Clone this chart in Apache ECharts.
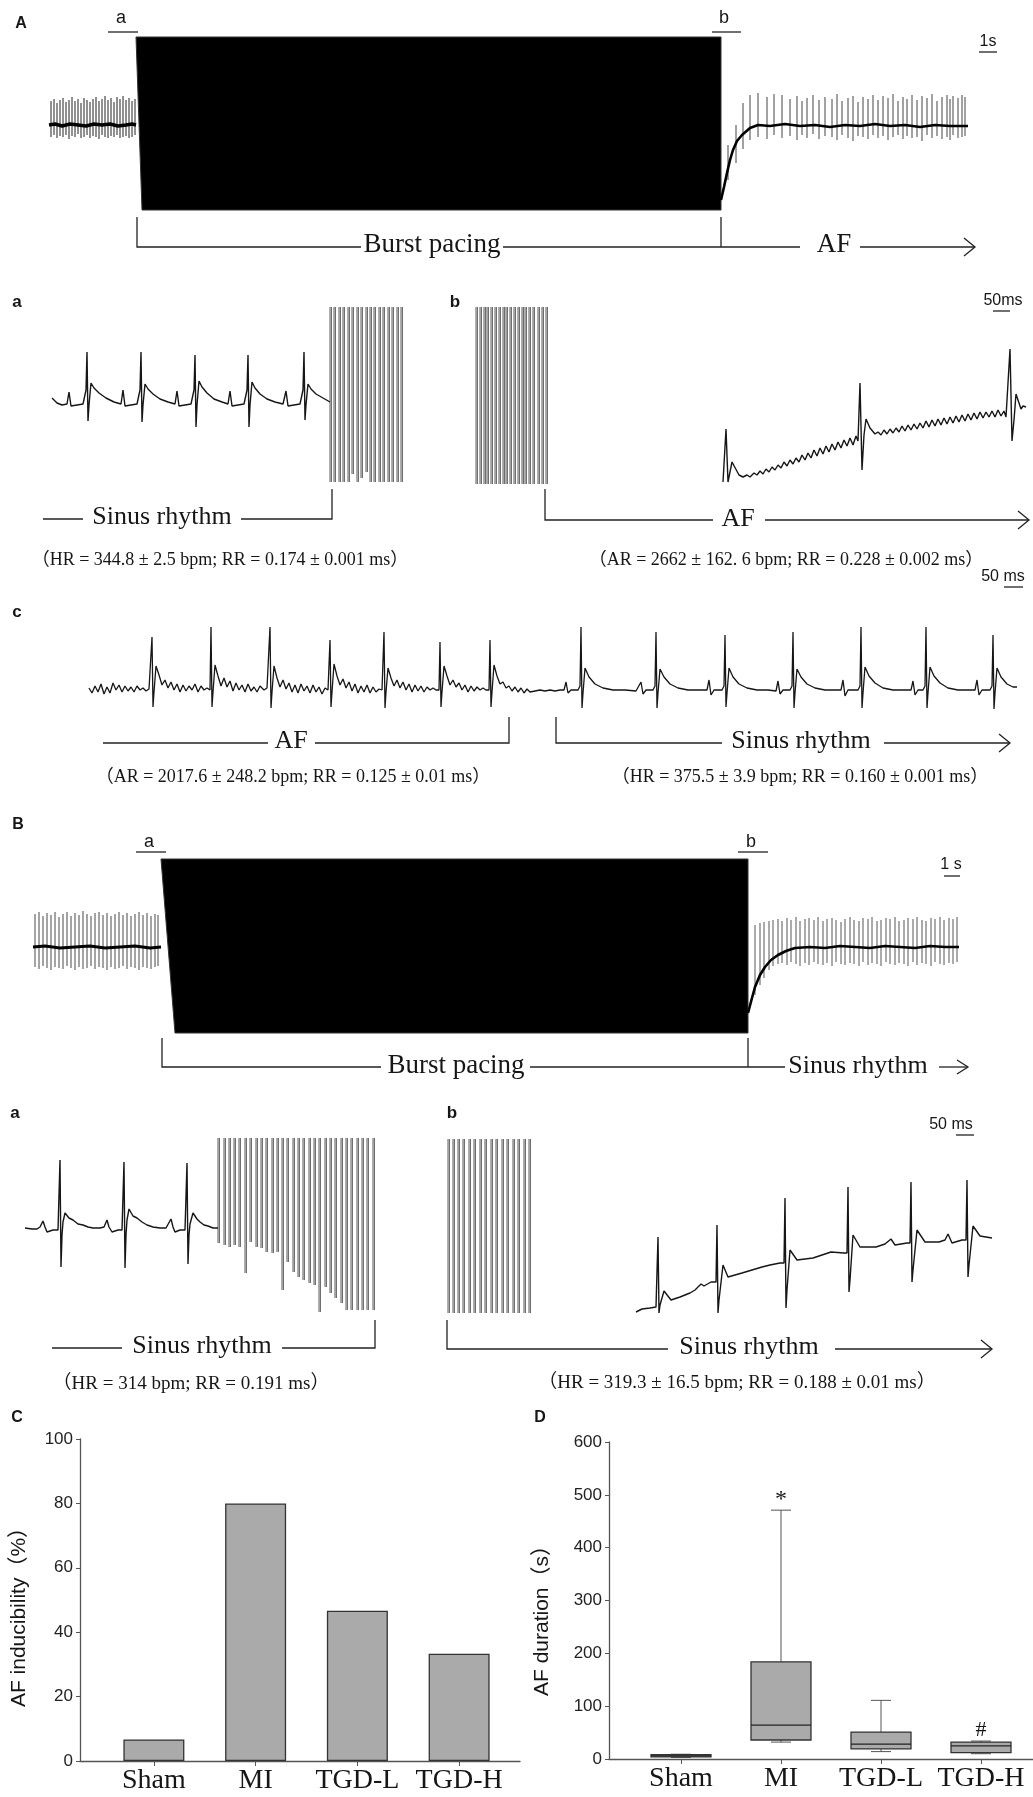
<!DOCTYPE html>
<html>
<head>
<meta charset="utf-8">
<title>AF induction</title>
<script src="https://cdn.jsdelivr.net/npm/echarts/dist/echarts.min.js"></script>
<style>
  html, body { margin: 0; padding: 0; background: #fff; }
  #chart { width: 1033px; height: 1797px; }
</style>
</head>
<body>
<div id="chart"></div>
<script>
// ---- trace data: [sample, amplitude] (1 unit ~ 1 px) ----

// A overview: burst block [leftTopX, leftBottomX, rightX, top, bottom]
const aBlock = [[96, 102, 681, 88, -85]]
const aPreBase = [[9,0],[15,1],[22,-1],[30,1],[38,0],[46,-1],[54,1],[62,0],[70,1],[78,-1],[86,0],[92,1],[96,0]]
const aPreSpikes = [[11,24,-12],[14,26,-10],[17,22,-13],[20,25,-11],[23,27,-12],[26,23,-10],[29,25,-14],[32,28,-11],[35,24,-12],[38,26,-9],[41,22,-13],[44,27,-12],[47,25,-10],[50,23,-13],[53,26,-11],[56,28,-12],[59,24,-14],[62,26,-10],[65,29,-12],[68,25,-13],[71,27,-11],[74,23,-12],[77,28,-10],[80,26,-13],[83,29,-12],[86,25,-11],[89,27,-13],[92,24,-12],[95,26,-10]]
const aPostBase = [[681,-75],[684,-62],[687,-48],[690,-35],[693,-25],[697,-16],[702,-10],[710,-3],[718,0],[730,-1],[745,1],[760,-1],[775,0],[790,-2],[805,0],[820,-1],[835,1],[850,-1],[865,0],[880,-2],[895,0],[910,-1],[928,-1]]
const aPostSpikes = [[688,-20,-55],[696,0,-38],[703,22,-24],[710,30,-15],[718,32,-12],[727,28,-14],[734,31,-10],[742,30,-13],[750,26,-11],[757,29,-15],[762,24,-10],[767,27,-13],[773,30,-9],[779,25,-14],[785,28,-11],[792,26,-12],[797,31,-15],[802,24,-10],[808,27,-13],[813,29,-16],[818,23,-11],[823,28,-12],[828,26,-14],[833,30,-10],[838,25,-13],[843,29,-11],[848,27,-15],[853,31,-12],[858,24,-10],[863,28,-14],[867,26,-11],[872,30,-13],[877,25,-12],[882,29,-16],[887,27,-10],[892,31,-13],[897,24,-11],[902,28,-14],[907,30,-12],[910,26,-15],[913,29,-10],[918,27,-13],[922,30,-12],[925,28,-11]]

// A-a: sinus rhythm then burst pulses
const aaTrace = [[12,2],[17,-3],[22,-5],[27,-4],[29,8],[31,-6],[37,-5],[43,-4],[45,-3],[46,10],[47,48],[48,-21],[49,-5],[51,17],[54,12],[59,7],[66,2],[74,-2],[81,-4],
  [82,-3],[83,10],[85,-6],[91,-5],[97,-4],[99,-3],[100,10],[101,48],[102,-22],[103,-5],[105,16],[108,11],[113,6],[120,1],[128,-2],[135,-4],
  [136,-3],[137,9],[139,-6],[145,-5],[151,-4],[153,-3],[154,10],[155,45],[156,-27],[157,-5],[159,19],[162,13],[167,7],[174,1],[182,-2],[188,-4],
  [190,9],[192,-6],[198,-5],[204,-4],[206,-3],[207,10],[208,45],[209,-27],[210,-5],[212,18],[215,12],[220,6],[227,1],[235,-2],[243,-4],
  [244,-3],[246,9],[248,-6],[254,-5],[260,-4],[262,-3],[263,10],[264,48],[265,-20],[266,-5],[268,16],[271,11],[276,6],[283,2],[290,-2]]
const aaPulses = [[290,93,-82],[294,93,-82],[299,93,-82],[303,93,-82],[308,93,-82],[312,93,-74],[317,93,-82],[321,93,-78],[326,93,-72],[330,93,-82],[334,93,-82],[339,93,-82],[343,93,-82],[348,93,-82],[352,93,-82],[357,93,-82],[361,93,-82]]

// A-b: burst pulses then AF
const abPulses = [[16,173,-4],[20,173,-4],[24,173,-4],[27,173,-4],[31,173,-4],[35,173,-4],[39,173,-4],[43,173,-4],[46,173,-4],[50,173,-4],[54,173,-4],[58,173,-4],[62,173,-4],[65,173,-4],[69,173,-4],[73,173,-4],[78,173,-4],[82,173,-4],[86,173,-4]]
const abTrace = [[263,-2],[266,51],[268,-2],[272,18],[279,5],[283,3],
  [287,5],[290,3],[294,7],[297,5],[300,9],[303,6],[306,11],[309,8],[312,13],[315,10],[318,15],[321,12],[324,18],[327,14],[330,20],[333,16],[336,22],[339,18],[342,25],[345,20],[348,27],[351,22],[354,30],[357,24],[360,32],[363,26],[366,34],[369,28],[372,36],[375,30],[378,38],[381,32],[384,40],[387,34],[390,42],[393,35],[396,44],[398,39],
  [400,97],[402,10],[404,45],[406,61],[410,52],[415,46],
  [418,48],[421,45],[424,50],[427,46],[430,51],[433,47],[436,52],[439,48],[442,54],[445,49],[448,55],[451,50],[454,56],[457,51],[460,57],[463,52],[466,59],[469,53],[472,60],[475,54],[478,61],[481,55],[484,62],[487,56],[490,63],[493,57],[496,64],[499,58],[502,65],[505,59],[508,66],[511,60],[514,67],[517,61],[520,68],[523,62],[526,68],[529,63],[532,69],[535,63],[538,70],[541,64],[544,69],[546,63],
  [550,131],[552,39],[554,60],[556,86],[561,71],[563,74],[566,73]]

// A-c: AF converting to sinus rhythm
const acTrace = [[9,2],[12,-3],[15,4],[18,-2],[21,6],[24,-4],[27,3],[30,-3],[33,7],[36,0],[39,5],[42,-2],[45,4],[48,-1],[51,3],[54,-2],[57,4],[60,0],[63,2],[66,-1],[69,1],
  [71,-1],[72,53],[73,-17],[74,-2],[76,24],[79,15],[82,5],[85,10],[88,2],[91,8],[94,0],[97,6],[100,-2],[103,5],[106,-1],[109,4],[112,0],[115,6],[118,-2],[121,4],[124,0],[127,2],
  [130,0],[131,63],[132,-17],[133,-2],[135,25],[138,14],[141,4],[144,12],[147,3],[150,9],[153,-1],[156,7],[159,0],[162,5],[165,-2],[168,6],[171,-1],[174,3],[177,-2],[180,4],[184,0],[187,2],
  [189,0],[190,63],[191,-18],[192,-2],[194,24],[197,12],[200,3],[203,10],[206,1],[209,7],[212,-2],[215,5],[218,-3],[221,6],[224,-1],[227,4],[230,-3],[233,5],[236,-2],[239,3],[242,-4],[245,2],[248,0],
  [249,0],[250,50],[251,-17],[252,-2],[254,26],[257,14],[260,5],[263,11],[266,2],[269,8],[272,-1],[275,6],[278,-3],[281,4],[284,-2],[287,5],[290,-3],[293,3],[296,-2],[299,1],[302,0],
  [303,0],[304,58],[305,-18],[306,-2],[308,22],[311,12],[314,4],[317,10],[320,2],[323,8],[326,0],[329,6],[332,-2],[335,5],[338,-1],[341,4],[344,-2],[347,3],[350,0],[353,2],[356,0],
  [359,0],[360,48],[361,-17],[362,-2],[364,24],[367,14],[370,5],[373,10],[376,3],[379,7],[382,0],[385,5],[388,-2],[391,4],[394,-1],[397,3],[400,0],[403,2],[406,0],
  [409,0],[410,50],[411,-17],[412,-2],[414,25],[417,14],[420,6],[423,8],[426,2],[429,4],[432,-1],[435,3],[438,-2],[441,2],[444,-3],[447,1],[450,-2],
  [455,-1],[460,0],[465,-1],[470,0],[475,-1],[480,0],[484,0],
  [486,8],[488,-3],[491,0],[498,0],[500,4],[501,63],[502,-18],[503,-3],[505,22],[509,13],[515,6],[523,2],[533,0],
  [545,0],[556,-1],[561,8],[563,-4],[566,0],[573,0],[575,4],[576,58],[577,-18],[578,-3],[580,21],[584,13],[590,6],[598,2],[608,0],
  [620,0],[627,0],[629,10],[631,-5],[634,0],[642,0],[644,4],[645,55],[646,-17],[647,-3],[649,22],[653,13],[659,6],[667,2],[677,0],
  [688,0],[696,-1],[698,9],[700,-4],[703,0],[710,0],[712,4],[713,58],[714,-18],[715,-3],[717,21],[721,13],[727,6],[735,2],[745,0],
  [755,0],[761,0],[763,10],[765,-6],[768,0],[778,0],[780,4],[781,63],[782,-18],[783,-3],[785,23],[789,14],[795,7],[803,2],[813,0],
  [822,0],[831,0],[833,9],[835,-5],[838,0],[843,0],[845,4],[846,63],[847,-18],[848,-3],[850,23],[854,14],[860,7],[868,2],[878,0],
  [888,0],[895,0],[897,10],[899,-5],[902,0],[910,0],[912,4],[913,55],[914,-19],[915,-3],[917,22],[921,13],[927,6],[933,3],[937,3]]

// B overview
const bBlock = [[141, 155, 728, 91, -83]]
const bPreBase = [[13,3],[25,4],[40,2],[55,3],[70,4],[85,2],[100,3],[115,4],[130,2],[141,3]]
const bPreSpikes = [[15,36,-17],[19,38,-19],[23,34,-16],[27,37,-18],[31,35,-20],[35,38,-17],[39,33,-18],[43,36,-19],[47,38,-16],[51,34,-18],[55,37,-20],[59,35,-17],[63,39,-19],[67,36,-18],[71,34,-16],[75,37,-19],[79,38,-17],[83,35,-18],[87,37,-20],[91,34,-17],[95,36,-19],[99,38,-18],[103,35,-16],[107,37,-19],[111,34,-17],[115,36,-18],[119,38,-20],[123,35,-17],[127,37,-18],[131,34,-19],[135,36,-17],[138,35,-16]]
const bPostBase = [[728,-63],[732,-48],[735,-37],[740,-25],[745,-17],[751,-10],[758,-5],[766,-1],[775,2],[790,3],[805,2],[820,4],[835,3],[850,2],[865,4],[880,3],[895,2],[910,4],[925,3],[939,3]]
const bPostSpikes = [[735,25,-45],[740,27,-35],[744,28,-28],[749,29,-20],[753,30,-16],[758,31,-14],[762,29,-13],[767,32,-15],[771,30,-12],[776,33,-14],[780,29,-16],[785,31,-13],[789,32,-15],[794,30,-12],[798,33,-14],[803,29,-15],[807,31,-13],[812,32,-16],[816,30,-12],[821,28,-14],[825,31,-15],[830,33,-13],[834,30,-14],[839,29,-16],[843,32,-12],[848,31,-15],[852,33,-13],[857,29,-14],[861,30,-16],[866,32,-12],[870,31,-14],[875,33,-15],[879,29,-13],[884,30,-14],[888,32,-16],[893,31,-12],[897,33,-15],[902,30,-13],[906,29,-14],[911,32,-16],[915,31,-12],[920,33,-14],[924,30,-15],[929,32,-13],[933,31,-14],[937,33,-12]]

// B-a
const baTrace = [[5,2],[12,1],[17,1],[20,3],[23,9],[25,3],[27,-2],[33,0],[38,0],[39,-2],[40,70],[41,-37],[42,-5],[43,8],[45,17],[49,12],[53,10],[58,6],[63,5],[68,3],[73,2],[80,2],[84,3],[87,10],[89,3],[92,-2],[98,0],[102,0],[103,-2],[104,68],[105,-38],[106,-5],[107,10],[109,21],[113,14],[117,12],[122,8],[127,5],[133,3],[140,2],[146,2],[148,4],[151,11],[153,3],[155,-2],[160,0],[165,0],[166,-2],[167,67],[168,-34],[169,-5],[170,6],[173,17],[177,11],[180,8],[184,5],[188,4],[193,2],[198,2]]
const baPulses = [[198,92,-13],[204,92,-15],[209,92,-17],[214,92,-15],[219,92,-17],[225,92,-43],[230,92,-12],[236,92,-17],[241,92,-18],[246,92,-22],[252,92,-23],[257,92,-22],[262,92,-60],[267,92,-32],[273,92,-42],[278,92,-47],[283,92,-50],[289,92,-53],[294,92,-55],[299,92,-82],[305,92,-57],[310,92,-63],[315,92,-68],[321,92,-73],[326,92,-80],[331,92,-80],[337,92,-80],[342,92,-80],[347,92,-80],[353,92,-80]]

// B-b
const bbPulses = [[8,171,-3],[13,171,-3],[18,171,-3],[23,171,-3],[29,171,-3],[34,171,-3],[40,171,-3],[45,171,-3],[51,171,-3],[56,171,-3],[62,171,-3],[67,171,-3],[73,171,-3],[78,171,-3],[84,171,-3],[89,171,-3]]
const bbTrace = [[196,-2],[202,1],[210,2],[216,3],[217,5],[218,73],[219,-3],[220,5],[224,19],[231,10],[240,13],[250,17],[255,20],[261,26],[264,24],[271,28],[276,28],
  [277,85],[278,-3],[279,10],[283,45],[288,33],[295,35],[302,37],[312,40],[322,43],[330,45],[340,47],[344,47],
  [345,112],[346,2],[347,20],[350,60],[357,50],[365,51],[373,52],[385,56],[391,58],[393,56],[404,57],[407,57],
  [408,123],[409,18],[410,30],[413,75],[420,63],[436,63],[445,66],[451,71],[455,65],[467,67],[470,67],
  [471,128],[472,28],[473,40],[477,80],[485,68],[499,68],[505,70],[508,76],[512,67],[522,70],[526,70],
  [527,130],[528,33],[529,45],[533,84],[540,74],[552,72]]

// C: AF inducibility (%)
const groups = ['Sham', 'MI', 'TGD-L', 'TGD-H']
const inducibility = [6.7, 80, 46.7, 33.3]

// D: AF duration (s), box plot
const durMin = [3, 32, 14, 10]
const durQ1 = [4, 36, 19, 12]
const durMed = [6, 64, 28, 25]
const durQ3 = [8, 184, 51, 32]
const durMax = [9, 471, 111, 34]
const durMarks = ['', '*', '', '#']

// ---- chart ----
const chart = echarts.init(document.getElementById('chart'))

const serif = '"Liberation Serif", "Noto Sans CJK SC", serif'
const sans = '"Liberation Sans", "Noto Sans CJK SC", sans-serif'
const ink = '#161616'

// trace panels: [left, top, width, height, xmax, ymin, ymax]
const panels = [
  [40, 30, 960, 200, 960, -105, 95],   // 0 A overview
  [40, 300, 380, 190, 380, -90, 100],  // 1 A-a
  [460, 300, 570, 190, 570, -10, 180], // 2 A-b
  [80, 610, 950, 110, 950, -30, 80],   // 3 A-c
  [20, 840, 960, 210, 960, -100, 110], // 4 B overview
  [20, 1130, 380, 190, 380, -90, 100], // 5 B-a
  [440, 1130, 580, 190, 580, -10, 180] // 6 B-b
]

const grid = panels.map(p => ({ left: p[0], top: p[1], width: p[2], height: p[3] }))
const xAxis = panels.map((p, i) => ({ type: 'value', gridIndex: i, min: 0, max: p[4], show: false }))
const yAxis = panels.map((p, i) => ({ type: 'value', gridIndex: i, min: p[5], max: p[6], show: false }))

// C (7: axes frame, 8: bars) and D (9: axes frame, 10: boxes)
grid.push({ left: 80, top: 1439, width: 440, height: 322 })
grid.push({ left: 103, top: 1439, width: 407, height: 322 })
grid.push({ left: 609, top: 1442, width: 424, height: 317 })
grid.push({ left: 631, top: 1442, width: 400, height: 317 })

const frameX = (gi) => ({
  type: 'value', gridIndex: gi, min: 0, max: 1,
  axisLine: { show: true, lineStyle: { color: '#555', width: 1.3 } },
  axisTick: { show: false }, axisLabel: { show: false }, splitLine: { show: false }
})
const frameY = (gi, max, step, title, gap, shift) => ({
  type: 'value', gridIndex: gi, min: 0, max: max, interval: step,
  name: title, nameLocation: 'middle', nameRotate: 90, nameGap: gap,
  nameTextStyle: { fontFamily: sans, fontSize: 21, color: ink, padding: [0, shift, 0, 0] },
  axisLine: { show: true, lineStyle: { color: '#555', width: 1.3 } },
  axisTick: { show: true, length: 4, lineStyle: { color: '#555' } },
  axisLabel: { fontFamily: sans, fontSize: 17, color: '#222', margin: 7 },
  splitLine: { show: false }
})
const catX = (gi) => ({
  type: 'category', gridIndex: gi, data: groups,
  axisLine: { show: false },
  axisTick: { show: true, alignWithLabel: true, length: 5, lineStyle: { color: '#555' } },
  axisLabel: { fontFamily: serif, fontSize: 28, color: ink, margin: 6, interval: 0 }
})

xAxis.push(frameX(7), catX(8), frameX(9), catX(10))
yAxis.push(frameY(7, 100, 20, 'AF inducibility（%）', 50, 24), { type: 'value', gridIndex: 8, min: 0, max: 100, show: false },
  frameY(9, 600, 100, 'AF duration（s）', 56, 30), { type: 'value', gridIndex: 10, min: 0, max: 600, show: false })

// renderers
const blockRender = (params, api) => {
  const a = api.coord([api.value(0), api.value(3)])
  const b = api.coord([api.value(2), api.value(3)])
  const c = api.coord([api.value(2), api.value(4)])
  const d = api.coord([api.value(1), api.value(4)])
  return { type: 'polygon', shape: { points: [a, b, c, d] }, style: { fill: '#000', stroke: '#333', lineWidth: 1 } }
}
const spikeRender = (color, width) => (params, api) => {
  const p1 = api.coord([api.value(0), api.value(1)])
  const p2 = api.coord([api.value(0), api.value(2)])
  return { type: 'line', shape: { x1: p1[0], y1: p1[1], x2: p2[0], y2: p2[1] }, style: { stroke: color, lineWidth: width } }
}
const pulseRender = (params, api) => {
  const p1 = api.coord([api.value(0), api.value(1)])
  const p2 = api.coord([api.value(0), api.value(2)])
  const st = { stroke: '#333', lineWidth: 0.8 }
  return {
    type: 'group',
    children: [
      { type: 'line', shape: { x1: p1[0], y1: p1[1], x2: p2[0], y2: p2[1] }, style: st },
      { type: 'line', shape: { x1: p1[0] + 1.4, y1: p1[1], x2: p2[0] + 1.4, y2: p2[1] }, style: st }
    ]
  }
}
const boxRender = (params, api) => {
  const i = api.value(0)
  const xc = api.coord([i, 0])[0]
  const yMin = api.coord([i, api.value(1)])[1]
  const yQ1 = api.coord([i, api.value(2)])[1]
  const yMed = api.coord([i, api.value(3)])[1]
  const yQ3 = api.coord([i, api.value(4)])[1]
  const yMax = api.coord([i, api.value(5)])[1]
  const hw = 30, cw = 10
  const wl = { stroke: '#555', lineWidth: 1 }
  const mark = durMarks[params.dataIndex]
  const children = [
    { type: 'line', shape: { x1: xc, y1: yQ3, x2: xc, y2: yMax }, style: wl },
    { type: 'line', shape: { x1: xc - cw, y1: yMax, x2: xc + cw, y2: yMax }, style: wl },
    { type: 'line', shape: { x1: xc, y1: yQ1, x2: xc, y2: yMin }, style: wl },
    { type: 'line', shape: { x1: xc - cw, y1: yMin, x2: xc + cw, y2: yMin }, style: wl },
    { type: 'rect', shape: { x: xc - hw, y: yQ3, width: hw * 2, height: Math.max(yQ1 - yQ3, 1) },
      style: { fill: '#aaaaaa', stroke: '#333', lineWidth: 1.3 } },
    { type: 'line', shape: { x1: xc - hw, y1: yMed, x2: xc + hw, y2: yMed }, style: { stroke: '#222', lineWidth: 1.3 } }
  ]
  if (mark) {
    children.push({
      type: 'text', x: xc, y: yMax - (mark === '*' ? 10 : 11),
      style: { text: mark, fontSize: mark === '*' ? 24 : 22, fontFamily: serif, fill: ink, textAlign: 'center', textVerticalAlign: 'middle' }
    })
  }
  return { type: 'group', children }
}

const line = (gi, data, width, color) => ({
  type: 'line', xAxisIndex: gi, yAxisIndex: gi, data, showSymbol: false, symbol: 'none',
  lineStyle: { color: color || ink, width: width || 1.3 }, silent: true, z: 3
})
const custom = (gi, data, render, z) => ({
  type: 'custom', xAxisIndex: gi, yAxisIndex: gi, data, renderItem: render,
  encode: { x: 0, y: [1, 2] }, silent: true, z: z || 2
})

const series = [
  custom(0, aBlock, blockRender),
  custom(0, aPreSpikes, spikeRender('#222', 1)),
  line(0, aPreBase, 3.5, '#000'),
  custom(0, aPostSpikes, spikeRender('#444', 1)),
  line(0, aPostBase, 2.6, '#000'),
  line(1, aaTrace, 1.4),
  custom(1, aaPulses, pulseRender),
  custom(2, abPulses, pulseRender),
  line(2, abTrace, 1.4),
  line(3, acTrace, 1.3),
  custom(4, bBlock, blockRender),
  custom(4, bPreSpikes, spikeRender('#333', 0.9)),
  line(4, bPreBase, 3, '#000'),
  custom(4, bPostSpikes, spikeRender('#444', 0.9)),
  line(4, bPostBase, 2.6, '#000'),
  line(5, baTrace, 1.4),
  custom(5, baPulses, pulseRender),
  custom(6, bbPulses, pulseRender),
  line(6, bbTrace, 1.4),
  {
    type: 'bar', xAxisIndex: 8, yAxisIndex: 8, data: inducibility, barWidth: 61,
    itemStyle: { color: '#aaaaaa', borderColor: '#333', borderWidth: 1.3 }, silent: true
  },
  {
    type: 'custom', xAxisIndex: 10, yAxisIndex: 10, renderItem: boxRender, silent: true,
    encode: { x: 0, y: [1, 2, 3, 4, 5] },
    data: groups.map((g, i) => [i, durMin[i], durQ1[i], durMed[i], durQ3[i], durMax[i]])
  }
]

// ---- annotations: labels, brackets, scale bars ----
const txt = (x, y, text, size, family, opts) => {
  opts = opts || {}
  return {
    type: 'text', x, y, silent: true,
    style: {
      text, fill: ink, fontSize: size, fontFamily: family, fontWeight: opts.bold ? 'bold' : 'normal',
      textAlign: 'center', textVerticalAlign: 'middle'
    }
  }
}
const seg = (points, w) => ({
  type: 'polyline', silent: true, shape: { points },
  style: { stroke: '#222', lineWidth: w || 1.3, fill: null }
})
const arrow = (x1, x2, y, h) => [
  seg([[x1, y], [x2, y]]),
  seg([[x2 - 11, y - (h || 8)], [x2, y], [x2 - 11, y + (h || 8)]])
]

const graphic = [
  // A overview
  txt(21, 24, 'A', 16, sans, { bold: true }),
  txt(121, 18, 'a', 18, sans), seg([[108, 32], [138, 32]]),
  txt(724, 18, 'b', 18, sans), seg([[712, 32], [741, 32]]),
  txt(988, 42, '1s', 16, sans), seg([[979, 52], [997, 52]]),
  seg([[137, 217], [137, 247], [361, 247]]),
  txt(432, 245, 'Burst pacing', 27, serif),
  seg([[503, 247], [800, 247]]), seg([[721, 217], [721, 247]]),
  txt(834, 245, 'AF', 27, serif),
  ...arrow(860, 975, 247, 9),

  // A-a / A-b
  txt(17, 302, 'a', 17, sans, { bold: true }),
  txt(455, 302, 'b', 17, sans, { bold: true }),
  txt(1003, 301, '50ms', 16, sans), seg([[993, 311], [1010, 311]]),
  seg([[43, 519], [83, 519]]),
  txt(162, 517, 'Sinus rhythm', 26, serif),
  seg([[241, 519], [332, 519], [332, 489]]),
  seg([[545, 489], [545, 520], [713, 520]]),
  txt(738, 519, 'AF', 26, serif),
  ...arrow(765, 1029, 520, 9),
  txt(220, 560, '（HR = 344.8 ± 2.5 bpm; RR = 0.174 ± 0.001 ms）', 18, serif),
  txt(786, 560, '（AR = 2662 ± 162. 6 bpm; RR = 0.228 ± 0.002 ms）', 18, serif),

  // A-c
  txt(1003, 577, '50 ms', 16, sans), seg([[1004, 587], [1023, 587]]),
  txt(17, 612, 'c', 17, sans, { bold: true }),
  seg([[103, 743], [268, 743]]),
  txt(291, 741, 'AF', 26, serif),
  seg([[315, 743], [509, 743], [509, 717]]),
  seg([[556, 717], [556, 743], [722, 743]]),
  txt(801, 741, 'Sinus rhythm', 26, serif),
  ...arrow(884, 1010, 743, 9),
  txt(293, 777, '（AR = 2017.6 ± 248.2 bpm; RR = 0.125 ± 0.01 ms）', 18, serif),
  txt(800, 777, '（HR = 375.5 ± 3.9 bpm; RR = 0.160 ± 0.001 ms）', 18, serif),

  // B overview
  txt(18, 825, 'B', 16, sans, { bold: true }),
  txt(149, 842, 'a', 18, sans), seg([[136, 852], [166, 852]]),
  txt(751, 842, 'b', 18, sans), seg([[738, 852], [768, 852]]),
  txt(951, 865, '1 s', 16, sans), seg([[944, 876], [960, 876]]),
  seg([[162, 1038], [162, 1067], [381, 1067]]),
  txt(456, 1066, 'Burst pacing', 27, serif),
  seg([[530, 1067], [785, 1067]]), seg([[748, 1038], [748, 1067]]),
  txt(858, 1066, 'Sinus rhythm', 26, serif),
  ...arrow(939, 968, 1067, 7),

  // B-a / B-b
  txt(15, 1113, 'a', 17, sans, { bold: true }),
  txt(452, 1113, 'b', 17, sans, { bold: true }),
  txt(951, 1125, '50 ms', 16, sans), seg([[956, 1135], [974, 1135]]),
  seg([[52, 1348], [122, 1348]]),
  txt(202, 1346, 'Sinus rhythm', 26, serif),
  seg([[282, 1348], [375, 1348], [375, 1320]]),
  seg([[447, 1320], [447, 1349], [668, 1349]]),
  txt(749, 1347, 'Sinus rhythm', 26, serif),
  ...arrow(835, 992, 1349, 9),
  txt(191, 1384, '（HR = 314 bpm; RR = 0.191 ms）', 19, serif),
  txt(737, 1383, '（HR = 319.3 ± 16.5 bpm; RR = 0.188 ± 0.01 ms）', 19, serif),

  // C / D panel letters
  txt(17, 1418, 'C', 16, sans, { bold: true }),
  txt(540, 1418, 'D', 16, sans, { bold: true })
]

chart.setOption({
  backgroundColor: '#fff',
  animation: false,
  grid,
  xAxis,
  yAxis,
  series,
  graphic
})
</script>
</body>
</html>
